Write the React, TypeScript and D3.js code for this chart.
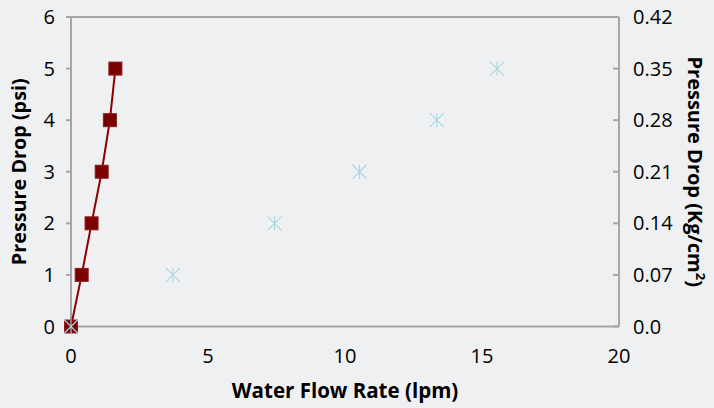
import * as d3 from "d3";

// primary series: psi vs lpm (red squares + line)
const redFlow = [0, 0.39, 0.75, 1.12, 1.42, 1.62];
const redPsi = [0, 1, 2, 3, 4, 5];
// secondary series: kg/cm2 (light blue asterisks)
const blueFlow = [0, 3.72, 7.43, 10.53, 13.35, 15.55];
const blueKg = [0, 0.07, 0.14, 0.21, 0.28, 0.35];

const xTicks = [0, 5, 10, 15, 20];
const yTicks = [0, 1, 2, 3, 4, 5, 6];
const y2Ticks = [0, 0.07, 0.14, 0.21, 0.28, 0.35, 0.42];
const y2Labels = ["0.0", "0.07", "0.14", "0.21", "0.28", "0.35", "0.42"];

const W = 714;
const H = 408;
const m = { left: 71, right: 95, top: 17, bottom: 81.5 };
const font = "'Open Sans', sans-serif";
const axisColor = "#a6a6a6";

export default function App() {
  const x = d3.scaleLinear().domain([0, 20]).range([m.left, W - m.right]);
  const y = d3.scaleLinear().domain([0, 6]).range([H - m.bottom, m.top]);
  const y2 = d3.scaleLinear().domain([0, 0.42]).range([H - m.bottom, m.top]);

  const redPts = redFlow.map((f, i) => [x(f), y(redPsi[i])] as [number, number]);
  const line = d3.line()(redPts) || "";
  const s = 6.5;
  const a = 7;

  return (
    <svg
      width={W}
      height={H}
      style={{ position: "absolute", left: 0, top: 0, background: "#eff0f2" }}
    >
      {/* plot frame */}
      <line x1={x(0)} x2={x(20)} y1={y(6)} y2={y(6)} stroke={axisColor} strokeWidth={2} />
      <line x1={x(20)} x2={x(20)} y1={y(6)} y2={y(0)} stroke={axisColor} strokeWidth={2} />
      <line x1={x(0)} x2={x(20)} y1={y(0)} y2={y(0)} stroke={axisColor} strokeWidth={2} />
      <line x1={x(0)} x2={x(0)} y1={y(6)} y2={y(0)} stroke={axisColor} strokeWidth={2} />

      {/* left axis */}
      {yTicks.map((t) => (
        <g key={"y" + t}>
          <line x1={x(0) - 5} x2={x(0)} y1={y(t)} y2={y(t)} stroke={axisColor} strokeWidth={2} />
          <text
            x={x(0) - 16}
            y={y(t)}
            dy="0.35em"
            textAnchor="end"
            fontFamily={font}
            fontSize={20}
            fill="#000"
          >
            {t}
          </text>
        </g>
      ))}

      {/* right axis */}
      {y2Ticks.map((t, i) => (
        <g key={"y2" + i}>
          <line x1={x(20) - 6} x2={x(20)} y1={y2(t)} y2={y2(t)} stroke={axisColor} strokeWidth={2} />
          <text
            x={x(20) + 14}
            y={y2(t)}
            dy="0.35em"
            textAnchor="start"
            fontFamily={font}
            fontSize={20}
            fill="#000"
          >
            {y2Labels[i]}
          </text>
        </g>
      ))}

      {/* bottom axis labels */}
      {xTicks.map((t) => (
        <text
          key={"x" + t}
          x={x(t)}
          y={y(0) + 36}
          textAnchor="middle"
          fontFamily={font}
          fontSize={20}
          fill="#000"
        >
          {t}
        </text>
      ))}

      {/* titles */}
      <text
        x={(x(0) + x(20)) / 2}
        y={398}
        textAnchor="middle"
        fontFamily={font}
        fontWeight="bold"
        fontSize={20.5}
        fill="#000"
      >
        Water Flow Rate (lpm)
      </text>
      <text
        transform={`translate(26,${(y(0) + y(6)) / 2}) rotate(-90)`}
        textAnchor="middle"
        fontFamily={font}
        fontWeight="bold"
        fontSize={19.8}
        fill="#000"
      >
        Pressure Drop (psi)
      </text>
      <text
        transform={`translate(688,${(y(0) + y(6)) / 2}) rotate(90)`}
        textAnchor="middle"
        fontFamily={font}
        fontWeight="bold"
        fontSize={20}
        fill="#000"
      >
        Pressure Drop (Kg/cm
        <tspan dy={-8} fontSize={13}>2</tspan>
        <tspan dy={8}>)</tspan>
      </text>

      {/* red series */}
      <path d={line} fill="none" stroke="#8b0000" strokeWidth={2} />
      {redPts.map(([px, py], i) => (
        <rect
          key={"r" + i}
          x={px - s}
          y={py - s}
          width={s * 2}
          height={s * 2}
          fill="#7a0000"
          stroke="#8f1c1c"
          strokeWidth={1}
        />
      ))}

      {/* blue series */}
      {blueFlow.map((f, i) => {
        const px = x(f);
        const py = y2(blueKg[i]);
        return (
          <g key={"b" + i} stroke="#a9d6e2" strokeWidth={1.1}>
            <line x1={px} x2={px} y1={py - a} y2={py + a} />
            <line x1={px - a} x2={px + a} y1={py - a} y2={py + a} />
            <line x1={px - a} x2={px + a} y1={py + a} y2={py - a} />
          </g>
        );
      })}
    </svg>
  );
}
